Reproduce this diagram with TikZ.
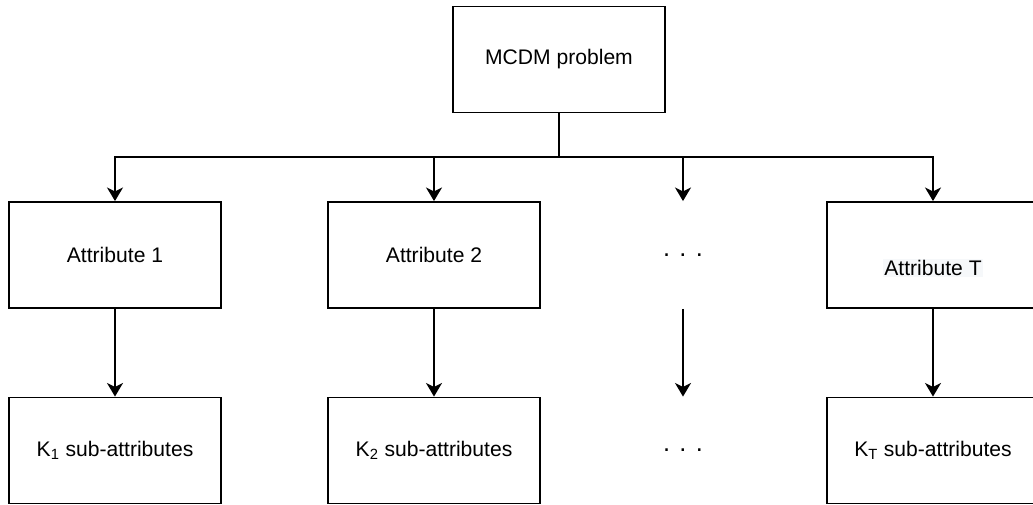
\documentclass[tikz,border=0pt]{standalone}
\usepackage{fontspec}
\setmainfont{Liberation Sans}
\usetikzlibrary{arrows.meta, positioning, calc}
\definecolor{hlGrey}{HTML}{F6F8FA}
\tikzset{
  txt/.style       = {font=\fontsize{15}{18}\selectfont},
  attbox/.style    = {draw, line width=1.3pt, minimum width=5.3cm,
                      minimum height=2.65cm, inner sep=0pt, txt},
  dotbox/.style    = {attbox, draw=none, font=\fontsize{18}{20}\selectfont},
  plainline/.style = {line width=1.4pt},
  arrline/.style   = {-{Stealth[length=3.4mm, width=4mm, inset=1mm]},
                      line width=1.4pt},
}

\begin{document}
\begin{tikzpicture}[x=0.025cm, y=-0.025cm]
  \useasboundingbox (0,0) rectangle (1033,505);
  % top level
  \node[attbox] (mcdm) at (559,59.5) {MCDM problem};
  % attributes
  \node[attbox] (att1) at (115,255) {Attribute 1};
  \node[attbox] (att2) at (434,255) {Attribute 2};
  \node[dotbox] (attdots) at (683,255) {. . .};
  \node[attbox] (attT) at (933,255) {};
  \node[txt, fill=hlGrey, inner sep=1pt] (attTlbl)
    at ([yshift=-0.33cm]attT.center) {Attribute T};
  % sub-attributes
  \node[attbox] (sub1) at (115,450.5) {K\textsubscript{1} sub-attributes};
  \node[attbox] (sub2) at (434,450.5) {K\textsubscript{2} sub-attributes};
  \node[dotbox] (subdots) at (683,450.5) {. . .};
  \node[attbox] (subT) at (933,450.5) {K\textsubscript{T} sub-attributes};
  % connectors
  \coordinate (bus) at (559,157);
  \draw[plainline] (mcdm) -- (bus);
  \foreach \n in {att1, att2, attdots, attT}
    \draw[arrline] (bus) -| (\n.north);
  \foreach \a/\b in {att1/sub1, att2/sub2, attdots/subdots, attT/subT}
    \draw[arrline] (\a) -- (\b);
\end{tikzpicture}
\end{document}
